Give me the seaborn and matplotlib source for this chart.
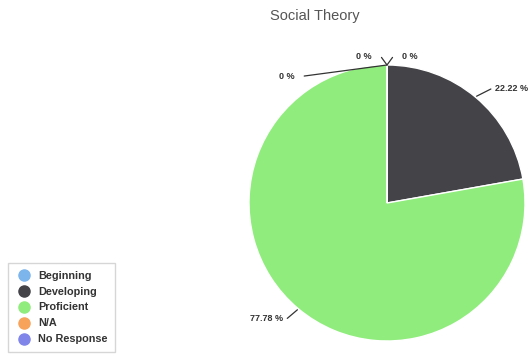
import numpy as np
import matplotlib
matplotlib.use("Agg")
import matplotlib.pyplot as plt
import seaborn as sns
from matplotlib.lines import Line2D

categories = ["Beginning", "Developing", "Proficient", "N/A", "No Response"]
values = [0, 22.22, 77.78, 0, 0]
labels = ["0 %", "22.22 %", "77.78 %", "0 %", "0 %"]
colors = ["#7cb5ec", "#434348", "#90ed7d", "#f7a35c", "#8085e9"]
title = "Social Theory"

sns.set_theme(style="white")
plt.rcParams["font.family"] = ["Liberation Sans", "DejaVu Sans"]

W, H = 531, 356
fig = plt.figure(figsize=(W / 100, H / 100), dpi=100)
cx, cy, r = 387, 203, 138
ax = fig.add_axes([(cx - r) / W, (H - cy - r) / H, 2 * r / W, 2 * r / H])
pal = sns.color_palette(colors)
ax.pie(values, colors=pal, startangle=90, counterclock=False, radius=1,
       wedgeprops=dict(linewidth=1, edgecolor="white"))
ax.set_xlim(-1, 1)
ax.set_ylim(-1, 1)
ax.set_aspect("equal")
ax.axis("off")

# labels with leader lines
total = sum(values)
cum = 0
offsets = {
    0: ((0.04, 0.055), (0.16, 0.06), "left"),
    1: ((0.11, 0.06), (0.77, 0.79), "left"),
    2: ((-0.08, -0.07), (-0.82, -0.85), "right"),
    3: ((-0.04, 0.055), (-0.12, 0.06), "right"),
    4: ((-0.6, -0.08), (-0.69, -0.1), "right"),
}
for i, (v, lab) in enumerate(zip(values, labels)):
    mid = 90 - (cum + v / 2) / total * 360
    cum += v
    a = np.deg2rad(mid)
    ex, ey = np.cos(a), np.sin(a)
    (dx, dy), (tx, ty), ha = offsets[i]
    if i == 4:
        ax.plot([ex, ex + dx], [ey, ey + dy], color="#333333", lw=0.9, clip_on=False)
        ax.text(ex + dx - 0.07, ey + dy, lab, ha="right", va="center",
                fontsize=6.5, fontweight="bold", color="#333333")
    elif i in (0, 3):
        ax.plot([ex, ex + dx], [ey, ey + dy], color="#333333", lw=0.9, clip_on=False)
        ax.text(ex + dx + (0.07 if ha == "left" else -0.07), ey + dy + 0.01, lab,
                ha=ha, va="center", fontsize=6.5, fontweight="bold", color="#333333")
    else:
        ax.plot([ex * 1.01, ex + dx], [ey * 1.01, ey + dy], color="#333333", lw=0.9, clip_on=False)
        ax.text(ex + dx + (0.03 if ha == "left" else -0.03), ey + dy, lab,
                ha=ha, va="center", fontsize=6.5, fontweight="bold", color="#333333")

fig.text(315 / W, 1 - 16 / H, title, ha="center", va="center", fontsize=10.5, color="#555555")

handles = [Line2D([0], [0], marker="o", color="none", markerfacecolor=c, markeredgecolor=c,
                  markersize=8) for c in pal]
leg = fig.legend(handles, categories, loc="lower left", bbox_to_anchor=(8 / W, 4 / H),
                 frameon=True, fontsize=7.8, handletextpad=0.5, labelspacing=0.55,
                 borderpad=0.7, handlelength=1.6, borderaxespad=0, fancybox=False)
for t in leg.get_texts():
    t.set_fontweight("bold")
    t.set_color("#333333")
leg.get_frame().set_edgecolor("#cccccc")
leg.get_frame().set_linewidth(1)

fig.savefig("out.png", dpi=100)
